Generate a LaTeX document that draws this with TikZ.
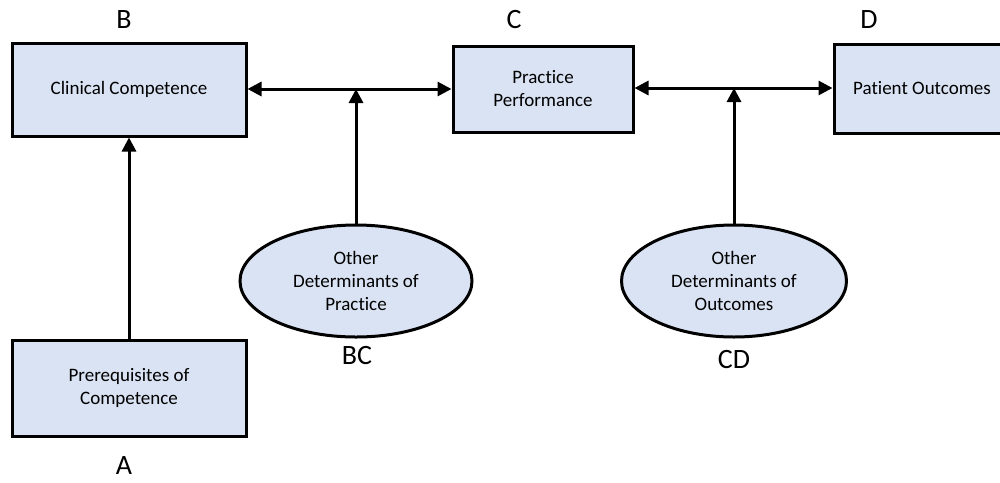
\documentclass[tikz,border=0pt]{standalone}
\usepackage{fontspec}
\setmainfont{Carlito}[Ligatures={NoCommon,NoContextual}]
\usetikzlibrary{arrows.meta,shapes.geometric}
\definecolor{boxfill}{HTML}{DAE3F3}
\begin{document}
\begin{tikzpicture}[x=1pt,y=-1pt,
  boxnode/.style={draw=black,line width=3pt,fill=boxfill,rectangle,inner sep=0pt,align=center,font=\fontsize{19}{23}\selectfont},
  ellnode/.style={draw=black,line width=3pt,fill=boxfill,ellipse,inner sep=0pt,align=center,font=\fontsize{19}{23}\selectfont},
  lbl/.style={font=\fontsize{28}{30}\selectfont,inner sep=0pt},
  conn/.style={line width=3pt,-{Triangle[length=14pt,width=14pt]}},
  biconn/.style={line width=3pt,{Triangle[length=14pt,width=14pt]}-{Triangle[length=14pt,width=14pt]}}]
\useasboundingbox (0,0) rectangle (1000,482);
\begin{scope}
\clip (0,0) rectangle (1000,482);
\node[boxnode,minimum width=234pt,minimum height=93pt] (B) at (129,89.5) {Clinical Competence};
\node[boxnode,minimum width=180pt,minimum height=86pt] (C) at (543,89) {Practice\\Performance};
\node[boxnode,minimum width=176pt,minimum height=89pt] (D) at (922,88.5) {Patient Outcomes};
\node[boxnode,minimum width=234pt,minimum height=96pt] (A) at (129,388) {Prerequisites of\\Competence};
\node[ellnode,minimum width=232pt,minimum height=112pt] (BCe) at (356,281) {Other\\Determinants of\\Practice};
\node[ellnode,minimum width=225pt,minimum height=112pt] (CDe) at (734,281) {Other\\Determinants of\\Outcomes};
\end{scope}
\node[lbl] (lB) at (124,20) {B};
\node[lbl] (lC) at (514,20) {C};
\node[lbl] (lD) at (869,20) {D};
\node[lbl] (lA) at (124,466) {A};
\node[lbl] (lBC) at (357,356) {BC};
\node[lbl] (lCD) at (734,360) {CD};
\coordinate (j1) at (356,89);
\coordinate (j2) at (734,88);
\draw[biconn] (B.east |- j1) -- (C.west |- j1);
\draw[biconn] (C.east |- j2) -- (D.west |- j2);
\draw[conn] (BCe.north) -- (j1);
\draw[conn] (CDe.north) -- (j2);
\draw[conn] (A.north) -- (B.south);
\end{tikzpicture}
\end{document}
